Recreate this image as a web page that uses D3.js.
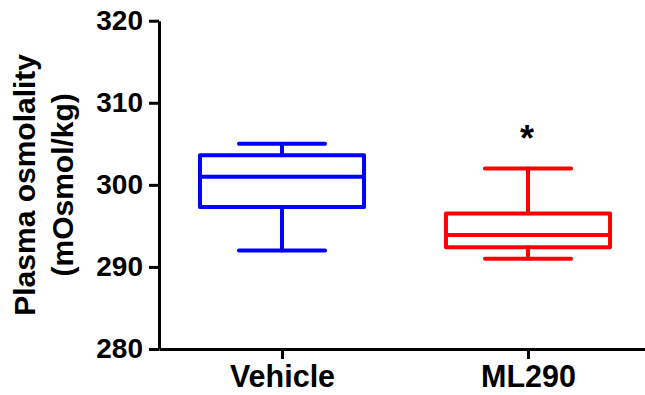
<!DOCTYPE html>
<html>
<head>
<meta charset="utf-8">
<script src="https://cdn.jsdelivr.net/npm/d3@7"></script>
<style>
  html, body { margin: 0; padding: 0; background: #fff; }
  svg { display: block; font-family: "Liberation Sans", Arial, sans-serif; font-weight: bold; }
</style>
</head>
<body>
<div id="chart"></div>
<script>
// data
const groups = ['Vehicle', 'ML290'];
const whiskerLow = [292, 291];
const q1 = [297.3, 292.4];
const median = [301, 293.9];
const q3 = [303.6, 296.5];
const whiskerHigh = [305, 302];
const boxColors = ['#0000ff', '#ff0000'];
const yTicks = [280, 290, 300, 310, 320];
const marks = [{ group: 'ML290', value: 306.4, text: '*' }];

const W = 645, H = 395;
const margin = { top: 20.7, left: 159, bottom: 46 };

const svg = d3.select('#chart').append('svg')
  .attr('width', W)
  .attr('height', H);

const y = d3.scaleLinear()
  .domain([280, 320])
  .range([H - margin.bottom, margin.top]);

const x = d3.scalePoint()
  .domain(groups)
  .range([margin.left, 651])
  .padding(0.5);

const step = x.step();
const boxW = step * 0.667;
const capW = step * 0.35;

// build box table from the arrays
const boxes = groups.map((g, i) => ({
  group: g, lo: whiskerLow[i], q1: q1[i], med: median[i], q3: q3[i], hi: whiskerHigh[i], color: boxColors[i]
}));

//////////////// axes ////////////////
const yAxis = svg.append('g')
  .attr('transform', `translate(${margin.left},0)`)
  .call(d3.axisLeft(y).tickValues(yTicks).tickSize(10).tickSizeOuter(0).tickPadding(6).tickFormat(d3.format('d')));

const xAxis = svg.append('g')
  .attr('transform', `translate(0,${y(280)})`)
  .call(d3.axisBottom(x).tickSize(10).tickSizeOuter(0).tickPadding(6));

[yAxis, xAxis].forEach(a => {
  a.selectAll('path, line').attr('stroke', '#000').attr('stroke-width', 3);
  a.selectAll('text').attr('fill', '#000').style('font-family', '"Liberation Sans", Arial, sans-serif').style('font-weight', 'bold');
});
yAxis.selectAll('text').style('font-size', '28px').attr('dy', '0.3em');
xAxis.selectAll('text').style('font-size', '30.5px').attr('dy', '0.72em');

// axis title, two lines
const title = svg.append('text')
  .attr('transform', `translate(0,${(y(280) + y(320)) / 2}) rotate(-90)`)
  .attr('text-anchor', 'middle')
  .style('font-size', '30px')
  .attr('fill', '#000');
title.append('tspan').attr('x', 0).attr('y', 35).text('Plasma osmolality');
title.append('tspan').attr('x', 0).attr('y', 73).text('(mOsmol/kg)');

//////////////// boxes ////////////////
const bg = svg.selectAll('.box')
  .data(boxes)
  .enter()
  .append('g')
  .attr('class', 'box')
  .attr('stroke', d => d.color)
  .attr('stroke-width', 4)
  .attr('fill', 'none')
  .attr('stroke-linecap', 'round')
  .attr('stroke-linejoin', 'round');

// whiskers
bg.append('line')
  .attr('x1', d => x(d.group)).attr('x2', d => x(d.group))
  .attr('y1', d => y(d.hi)).attr('y2', d => y(d.q3));
bg.append('line')
  .attr('x1', d => x(d.group)).attr('x2', d => x(d.group))
  .attr('y1', d => y(d.q1)).attr('y2', d => y(d.lo));
// caps
bg.append('line')
  .attr('x1', d => x(d.group) - capW / 2).attr('x2', d => x(d.group) + capW / 2)
  .attr('y1', d => y(d.hi)).attr('y2', d => y(d.hi));
bg.append('line')
  .attr('x1', d => x(d.group) - capW / 2).attr('x2', d => x(d.group) + capW / 2)
  .attr('y1', d => y(d.lo)).attr('y2', d => y(d.lo));
// box
bg.append('rect')
  .attr('x', d => x(d.group) - boxW / 2)
  .attr('width', boxW)
  .attr('y', d => y(d.q3))
  .attr('height', d => y(d.q1) - y(d.q3));
// median
bg.append('line')
  .attr('x1', d => x(d.group) - boxW / 2).attr('x2', d => x(d.group) + boxW / 2)
  .attr('y1', d => y(d.med)).attr('y2', d => y(d.med));

// significance mark
svg.selectAll('.sig')
  .data(marks)
  .enter()
  .append('text')
  .attr('class', 'sig')
  .attr('x', d => x(d.group) - 1)
  .attr('y', d => y(d.value) + 19)
  .attr('text-anchor', 'middle')
  .style('font-size', '36px')
  .attr('fill', '#000')
  .text(d => d.text);
</script>
</body>
</html>
